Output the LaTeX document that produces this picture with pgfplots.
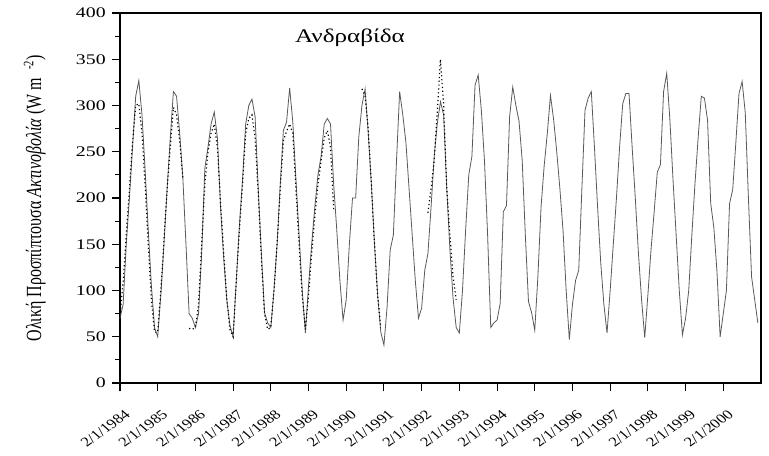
\documentclass[border=0pt]{standalone}
\usepackage{pgfplots}
\usepackage{pgfplotstable}
\pgfplotsset{compat=1.18}
\usepackage{fontspec}
\setmainfont{Liberation Serif}

% monthly values, t = months since Jan 1984
\pgfplotstableread[row sep=\\]{
t v \\
0 70 \\ 1 85 \\ 2 150 \\ 3 200 \\ 4 255 \\ 5 310 \\ 6 327 \\ 7 290 \\ 8 230 \\ 9 165 \\ 10 105 \\ 11 60 \\
12 50 \\ 13 95 \\ 14 150 \\ 15 210 \\ 16 265 \\ 17 315 \\ 18 310 \\ 19 270 \\ 20 222 \\ 21 150 \\ 22 75 \\ 23 70 \\
24 60 \\ 25 75 \\ 26 140 \\ 27 232 \\ 28 255 \\ 29 280 \\ 30 293 \\ 31 265 \\ 32 190 \\ 33 135 \\ 34 90 \\ 35 62 \\
36 50 \\ 37 110 \\ 38 170 \\ 39 220 \\ 40 280 \\ 41 300 \\ 42 307 \\ 43 288 \\ 44 210 \\ 45 140 \\ 46 76 \\ 47 65 \\
48 60 \\ 49 100 \\ 50 150 \\ 51 215 \\ 52 273 \\ 53 282 \\ 54 319 \\ 55 282 \\ 56 220 \\ 57 160 \\ 58 100 \\ 59 54 \\
60 105 \\ 61 150 \\ 62 190 \\ 63 225 \\ 64 245 \\ 65 280 \\ 66 286 \\ 67 280 \\ 68 215 \\ 69 165 \\ 70 110 \\ 71 68 \\
72 90 \\ 73 150 \\ 74 200 \\ 75 200 \\ 76 266 \\ 77 300 \\ 78 318 \\ 79 270 \\ 80 215 \\ 81 150 \\ 82 95 \\ 83 55 \\
84 41 \\ 85 82 \\ 86 144 \\ 87 160 \\ 88 240 \\ 89 315 \\ 90 290 \\ 91 260 \\ 92 210 \\ 93 160 \\ 94 110 \\ 95 70 \\
96 81 \\ 97 122 \\ 98 140 \\ 99 190 \\ 100 245 \\ 101 281 \\ 102 304 \\ 103 290 \\ 104 210 \\ 105 144 \\ 106 92 \\ 107 60 \\
108 54 \\ 109 100 \\ 110 165 \\ 111 225 \\ 112 245 \\ 113 322 \\ 114 333 \\ 115 295 \\ 116 240 \\ 117 160 \\ 118 60 \\ 119 65 \\
120 68 \\ 121 86 \\ 122 185 \\ 123 192 \\ 124 288 \\ 125 320 \\ 126 300 \\ 127 283 \\ 128 241 \\ 129 160 \\ 130 88 \\ 131 76 \\
132 57 \\ 133 115 \\ 134 190 \\ 135 235 \\ 136 270 \\ 137 311 \\ 138 285 \\ 139 250 \\ 140 210 \\ 141 165 \\ 142 100 \\ 143 47 \\
144 85 \\ 145 111 \\ 146 122 \\ 147 210 \\ 148 295 \\ 149 308 \\ 150 315 \\ 151 255 \\ 152 190 \\ 153 130 \\ 154 85 \\ 155 54 \\
156 100 \\ 157 150 \\ 158 200 \\ 159 255 \\ 160 302 \\ 161 313 \\ 162 313 \\ 163 255 \\ 164 200 \\ 165 140 \\ 166 90 \\ 167 49 \\
168 95 \\ 169 144 \\ 170 185 \\ 171 228 \\ 172 236 \\ 173 315 \\ 174 335 \\ 175 285 \\ 176 220 \\ 177 160 \\ 178 100 \\ 179 52 \\
180 70 \\ 181 100 \\ 182 160 \\ 183 216 \\ 184 265 \\ 185 310 \\ 186 308 \\ 187 284 \\ 188 194 \\ 189 168 \\ 190 120 \\ 191 50 \\
192 75 \\ 193 100 \\ 194 194 \\ 195 209 \\ 196 260 \\ 197 313 \\ 198 326 \\ 199 292 \\ 200 200 \\ 201 115 \\ 202 90 \\ 203 65 \\
}\solid

% second series (dotted), gaps as nan
\pgfplotstableread[row sep=\\]{
t v \\
0 72 \\ 1 110 \\ 2 160 \\ 3 210 \\ 4 260 \\ 5 300 \\ 6 302 \\ 7 270 \\ 8 215 \\ 9 150 \\ 10 90 \\ 11 55 \\
12 55 \\ 13 100 \\ 14 155 \\ 15 210 \\ 16 255 \\ 17 298 \\ 18 290 \\ 19 262 \\ 20 222 \\ 21 nan \\ 22 59 \\ 23 58 \\
24 60 \\ 25 85 \\ 26 150 \\ 27 215 \\ 28 250 \\ 29 270 \\ 30 280 \\ 31 255 \\ 32 195 \\ 33 140 \\ 34 90 \\ 35 58 \\
36 50 \\ 37 110 \\ 38 165 \\ 39 215 \\ 40 270 \\ 41 286 \\ 42 290 \\ 43 265 \\ 44 205 \\ 45 135 \\ 46 75 \\ 47 58 \\
48 60 \\ 49 100 \\ 50 150 \\ 51 210 \\ 52 262 \\ 53 272 \\ 54 280 \\ 55 270 \\ 56 210 \\ 57 150 \\ 58 95 \\ 59 58 \\
60 95 \\ 61 140 \\ 62 180 \\ 63 215 \\ 64 240 \\ 65 265 \\ 66 273 \\ 67 255 \\ 68 188 \\ 69 nan \\
77 318 \\ 78 310 \\ 79 275 \\ 80 215 \\ 81 150 \\ 82 95 \\ 83 60 \\ 84 nan \\
98 184 \\ 99 210 \\ 100 240 \\ 101 295 \\ 102 350 \\ 103 300 \\ 104 210 \\ 105 160 \\ 106 115 \\ 107 90 \\
}\dotted

\begin{document}
\begin{tikzpicture}
\useasboundingbox (-90pt,-54pt) rectangle (486.75pt,287.25pt);
\begin{axis}[
    at={(0,0)}, anchor=south west,
    scale only axis,
    width=480.75pt, height=277.5pt,
    xmin=1984, xmax=2001,
    ymin=0, ymax=400,
    xtick={1984,1985,...,2000},
    xticklabels={2/1/1984,2/1/1985,2/1/1986,2/1/1987,2/1/1988,2/1/1989,2/1/1990,2/1/1991,2/1/1992,2/1/1993,2/1/1994,2/1/1995,2/1/1996,2/1/1997,2/1/1998,2/1/1999,2/1/2000},
    ytick={0,50,...,400},
    minor x tick num=1,
    minor y tick num=1,
    tick align=outside,
    tick pos=left,
    major tick length=6pt,
    minor tick length=3.5pt,
    axis line style={line width=0.9pt},
    tick style={black, line width=0.8pt},
    /pgf/number format/assume math mode=true,
    y tick label style={font=\fontsize{11}{12}\selectfont, xscale=1.35},
    xticklabel shift=14pt,
    x tick label style={font=\fontsize{10}{12}\selectfont, xscale=1.25, rotate=42, anchor=north east, inner sep=1pt, xshift=3pt},
    ylabel={Ολική Προσπίπτουσα \textit{Ακτινοβολία} (W m~~\textsuperscript{-2})},
    ylabel style={at={(axis description cs:-0.133,0.5)}, anchor=center, font=\fontsize{12}{14}\selectfont, yscale=1.35},
    unbounded coords=jump,
    clip=false,
]
\addplot[black!65, line width=0.6pt] table[x expr=1984+\thisrow{t}/12, y=v] {\solid};
\addplot[black, dotted, line width=0.9pt] table[x expr=1984+\thisrow{t}/12, y=v] {\dotted};
\node[font=\fontsize{14.5}{16}\selectfont, xscale=1.3] at (axis cs:1990.1,373) {Ανδραβίδα};
\end{axis}
\end{tikzpicture}
\end{document}
